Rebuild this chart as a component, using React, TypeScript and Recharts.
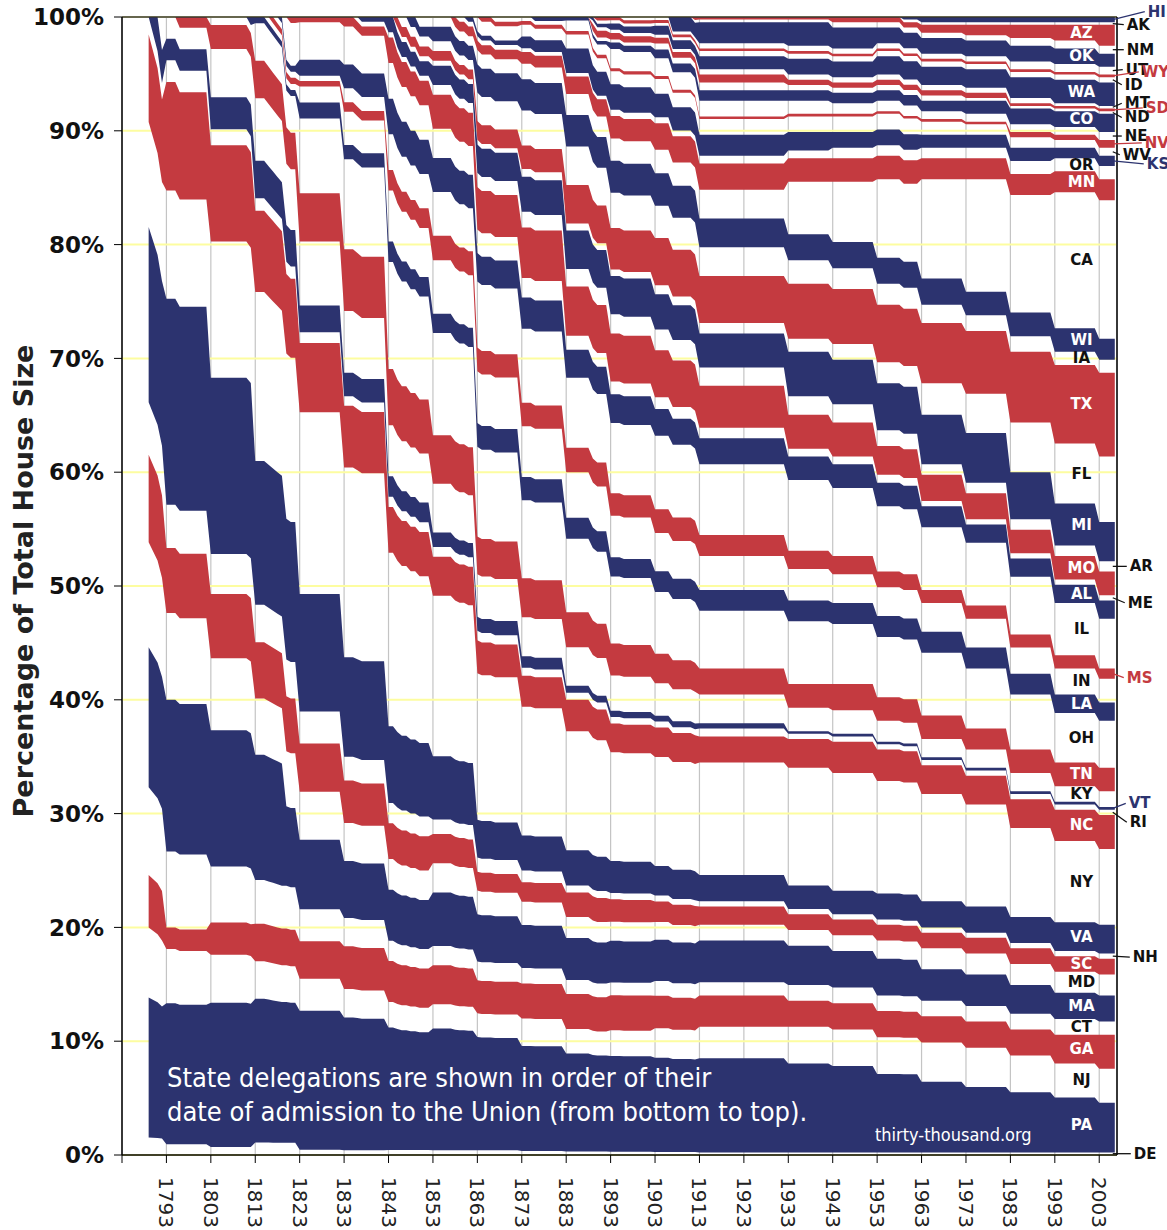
import {
  Area,
  AreaChart,
  CartesianGrid,
  ReferenceDot,
  ReferenceLine,
  XAxis,
  YAxis,
} from "recharts";

const NAVY = "#2c336f";
const RED = "#c43a40";
const FONT = "'DejaVu Sans', Verdana, sans-serif";
const NOTE_FONT = "'DejaVu Sans Condensed', 'DejaVu Sans', sans-serif";

// states in order of admission, bottom of the stack first
const STATES = [
  "DE", "PA", "NJ", "GA", "CT", "MA", "MD", "SC", "NH", "VA", "NY", "NC", "RI",
  "VT", "KY", "TN", "OH", "LA", "IN", "MS", "IL", "AL", "ME", "MO", "AR", "MI",
  "FL", "TX", "IA", "WI", "CA", "MN", "OR", "KS", "WV", "NV", "NE", "CO", "ND",
  "SD", "MT", "WA", "ID", "WY", "UT", "OK", "NM", "AZ", "AK", "HI",
];

// House seats per state (same order as STATES) when each apportionment took effect
const SEATS_1789 = [1, 8, 4, 3, 5, 8, 6, 5, 3, 10, 6, 5, 1];
const SEATS_1793 = [1, 13, 5, 2, 7, 14, 8, 6, 4, 19, 10, 10, 2, 2, 2];
const SEATS_1803 = [1, 18, 6, 4, 7, 17, 9, 8, 5, 22, 17, 12, 2, 4, 6, 3, 1];
const SEATS_1813 = [2, 23, 6, 6, 7, 20, 9, 9, 6, 23, 27, 13, 2, 6, 10, 6, 6, 1];
const SEATS_1823 = [1, 26, 6, 7, 6, 13, 9, 9, 6, 22, 34, 13, 2, 5, 12, 9, 14, 3, 3, 1, 1, 3, 7, 1];
const SEATS_1833 = [1, 28, 6, 9, 6, 12, 8, 9, 5, 21, 40, 13, 2, 5, 13, 13, 19, 3, 7, 2, 3, 5, 8, 2];
const SEATS_1843 = [1, 24, 5, 8, 4, 10, 6, 7, 4, 15, 34, 9, 2, 4, 10, 11, 21, 4, 10, 4, 7, 7, 7, 5, 1, 3];
const SEATS_1853 = [1, 25, 5, 8, 4, 11, 6, 6, 3, 13, 33, 8, 2, 3, 10, 10, 21, 4, 11, 5, 9, 7, 6, 7, 2, 4, 1, 2, 2, 3, 2];
const SEATS_1863 = [1, 24, 5, 7, 4, 10, 5, 4, 3, 8, 31, 7, 2, 3, 9, 8, 19, 5, 11, 5, 14, 6, 5, 9, 3, 6, 1, 4, 6, 6, 3, 2, 1, 1, 3];
const SEATS_1873 = [1, 27, 7, 9, 4, 11, 6, 5, 3, 9, 33, 8, 2, 3, 10, 10, 20, 6, 13, 6, 19, 8, 5, 13, 4, 9, 2, 6, 9, 8, 4, 3, 1, 3, 3, 1, 1];
const SEATS_1883 = [1, 28, 7, 10, 4, 12, 6, 7, 2, 10, 34, 9, 2, 2, 11, 10, 21, 6, 13, 7, 20, 8, 4, 14, 5, 11, 2, 11, 11, 9, 6, 5, 1, 7, 4, 1, 3, 1];
const SEATS_1893 = [1, 30, 8, 11, 4, 13, 6, 7, 2, 10, 34, 9, 2, 2, 11, 10, 21, 6, 13, 7, 22, 9, 4, 15, 6, 12, 2, 13, 11, 10, 7, 7, 2, 8, 4, 1, 6, 2, 1, 2, 1, 2, 1, 1];
const SEATS_1903 = [1, 32, 10, 11, 5, 14, 6, 7, 2, 10, 37, 10, 2, 2, 11, 10, 21, 7, 13, 8, 25, 9, 4, 16, 7, 12, 3, 16, 11, 11, 8, 9, 2, 8, 5, 1, 6, 3, 2, 2, 1, 3, 1, 1, 1];
const SEATS_1913 = [1, 36, 12, 12, 5, 16, 6, 7, 2, 10, 43, 10, 3, 2, 11, 10, 22, 8, 13, 8, 27, 10, 4, 16, 7, 13, 4, 18, 11, 11, 11, 10, 3, 8, 6, 1, 6, 4, 3, 3, 2, 5, 2, 1, 2, 8, 1, 1];
const SEATS_1933 = [1, 34, 14, 10, 6, 15, 6, 6, 2, 9, 45, 11, 2, 1, 9, 9, 24, 8, 12, 7, 27, 9, 3, 13, 7, 17, 5, 21, 9, 10, 20, 9, 3, 7, 6, 1, 5, 4, 2, 2, 2, 6, 2, 1, 2, 9, 1, 1];
const SEATS_1943 = [1, 33, 14, 10, 6, 14, 6, 6, 2, 9, 45, 12, 2, 1, 9, 10, 23, 8, 11, 7, 26, 9, 3, 13, 7, 17, 6, 21, 8, 10, 23, 9, 4, 6, 6, 1, 4, 4, 2, 2, 2, 6, 2, 1, 2, 8, 2, 2];
const SEATS_1953 = [1, 30, 14, 10, 6, 14, 7, 6, 2, 10, 43, 12, 2, 1, 8, 9, 23, 8, 11, 6, 25, 9, 3, 11, 6, 18, 8, 22, 8, 10, 30, 9, 4, 6, 6, 1, 4, 4, 2, 2, 2, 7, 2, 1, 2, 6, 2, 2];
const SEATS_1963 = [1, 27, 15, 10, 6, 12, 8, 6, 2, 10, 41, 11, 2, 1, 7, 9, 24, 8, 11, 5, 24, 8, 2, 10, 4, 19, 12, 23, 7, 10, 38, 8, 4, 5, 5, 1, 3, 4, 2, 2, 2, 7, 2, 1, 2, 6, 2, 3, 1, 2];
const SEATS_1973 = [1, 25, 15, 10, 6, 12, 8, 6, 2, 10, 39, 11, 2, 1, 7, 8, 23, 8, 11, 5, 24, 7, 2, 10, 4, 19, 15, 24, 6, 9, 43, 8, 4, 5, 4, 1, 3, 5, 1, 2, 2, 7, 2, 1, 2, 6, 2, 4, 1, 2];
const SEATS_1983 = [1, 23, 14, 10, 6, 11, 8, 6, 2, 10, 34, 11, 2, 1, 7, 9, 21, 8, 10, 5, 22, 7, 2, 9, 4, 18, 19, 27, 6, 9, 45, 8, 5, 5, 4, 2, 3, 6, 1, 1, 2, 8, 2, 1, 3, 6, 3, 5, 1, 2];
const SEATS_1993 = [1, 21, 13, 11, 6, 10, 8, 6, 2, 11, 31, 12, 2, 1, 6, 9, 19, 7, 10, 5, 20, 7, 2, 9, 4, 16, 23, 30, 5, 9, 52, 8, 5, 4, 3, 2, 3, 6, 1, 1, 1, 9, 2, 1, 3, 6, 3, 6, 1, 2];
const SEATS_2003 = [1, 19, 13, 13, 5, 10, 8, 6, 2, 11, 29, 13, 2, 1, 6, 9, 18, 7, 9, 4, 19, 7, 2, 9, 4, 15, 25, 32, 5, 8, 53, 8, 5, 4, 3, 3, 3, 7, 1, 1, 1, 9, 2, 1, 3, 5, 3, 8, 1, 2];

const APPORTIONMENTS: [number, number[]][] = [
  [1789, SEATS_1789], [1793, SEATS_1793], [1803, SEATS_1803], [1813, SEATS_1813],
  [1823, SEATS_1823], [1833, SEATS_1833], [1843, SEATS_1843], [1853, SEATS_1853],
  [1863, SEATS_1863], [1873, SEATS_1873], [1883, SEATS_1883], [1893, SEATS_1893],
  [1903, SEATS_1903], [1913, SEATS_1913], [1933, SEATS_1933], [1943, SEATS_1943],
  [1953, SEATS_1953], [1963, SEATS_1963], [1973, SEATS_1973], [1983, SEATS_1983],
  [1993, SEATS_1993], [2003, SEATS_2003],
];

// admissions (and the Maine split) between apportionments: state, year, seats
const CHANGES: [string, number, number][] = [
  ["VT", 1791, 2], ["KY", 1792, 2], ["TN", 1796, 1], ["LA", 1812, 1],
  ["IN", 1816, 1], ["MS", 1817, 1], ["IL", 1818, 1], ["AL", 1819, 1],
  ["MA", 1820, 13], ["ME", 1820, 7], ["MO", 1821, 1], ["AR", 1836, 1],
  ["MI", 1837, 1], ["FL", 1845, 1], ["TX", 1845, 2], ["IA", 1846, 2],
  ["WI", 1848, 2], ["CA", 1850, 2], ["MN", 1858, 2], ["OR", 1859, 1],
  ["KS", 1861, 1], ["NV", 1864, 1], ["NE", 1867, 1], ["CO", 1876, 1],
  ["ND", 1889, 1], ["SD", 1889, 2], ["MT", 1889, 1], ["WA", 1889, 1],
  ["ID", 1890, 1], ["WY", 1890, 1], ["UT", 1896, 1], ["OK", 1907, 5],
  ["NM", 1912, 1], ["AZ", 1912, 1], ["AK", 1959, 1], ["HI", 1959, 1],
];

const END_YEAR = 2006.5;

const X_TICKS = [
  1783, 1793, 1803, 1813, 1823, 1833, 1843, 1853, 1863, 1873, 1883, 1893,
  1903, 1913, 1923, 1933, 1943, 1953, 1963, 1973, 1983, 1993, 2003,
];
const Y_TICKS = [0, 0.1, 0.2, 0.3, 0.4, 0.5, 0.6, 0.7, 0.8, 0.9, 1];

// labels written inside their band (1993-2003 period)
const INSIDE_LABELS = [
  "PA", "NJ", "GA", "CT", "MA", "MD", "SC", "VA", "NY", "NC", "KY", "TN", "OH",
  "LA", "IN", "IL", "AL", "MO", "MI", "FL", "TX", "IA", "WI", "CA", "MN", "OR",
  "CO", "WA", "OK", "AZ",
];
// labels outside the plot: state, text offset x, text offset y (px)
const OUTSIDE_LABELS: [string, number, number][] = [
  ["HI", 33, -8], ["AK", 12, 1], ["NM", 12, 0], ["UT", 11, -1], ["WY", 27, -4],
  ["ID", 10, 5], ["MT", 10, -4], ["SD", 31, -2], ["ND", 10, 5], ["NE", 10, 0],
  ["NV", 30, -1], ["WV", 8, 3], ["KS", 32, 3], ["AR", 15, 0], ["ME", 13, 5],
  ["MS", 12, 4], ["VT", 14, -5], ["RI", 15, 10], ["NH", 18, 1], ["DE", 19, 0],
];

const fillOf = (i: number) => (i % 4 === 1 ? NAVY : i % 4 === 3 ? RED : "none");

function toRow(year: number, seats: number[]) {
  const row: Record<string, number> = { year };
  STATES.forEach((s, i) => (row[s] = seats[i]));
  return row;
}

function buildRows() {
  const years = Array.from(
    new Set([...APPORTIONMENTS.map((a) => a[0]), ...CHANGES.map((c) => c[1])])
  ).sort((a, b) => a - b);
  const rows: Record<string, number>[] = [];
  let seats = STATES.map(() => 0);
  let last: number | null = null;
  for (const y of years) {
    const prev = seats.slice();
    const app = APPORTIONMENTS.find((a) => a[0] === y);
    if (app) seats = STATES.map((_, i) => app[1][i] ?? 0);
    else seats = seats.slice();
    for (const [s, cy, n] of CHANGES) if (cy === y) seats[STATES.indexOf(s)] = n;
    // hold the old delegation until a year before the change
    // (the first Congresses filled in gradually, so no hold before 1793)
    if (last !== null && y > 1793 && y - 1 > last) rows.push(toRow(y - 1, prev));
    rows.push(toRow(y, seats));
    last = y;
  }
  rows.push(toRow(END_YEAR, seats));
  return rows;
}

const ROWS = buildRows();

function bandMid(seats: number[], idx: number) {
  const total = seats.reduce((a, b) => a + b, 0);
  const below = seats.slice(0, idx).reduce((a, b) => a + b, 0);
  return (below + (seats[idx] ?? 0) / 2) / total;
}

function XTick(props: any) {
  const { x, y, payload } = props;
  if (payload.value === 1783) return null;
  return (
    <text
      transform={`translate(${x},${y + 12}) rotate(90)`}
      textAnchor="start"
      dominantBaseline="central"
      fontFamily={FONT}
      fontSize={20}
      fill="#222"
    >
      {payload.value}
    </text>
  );
}

function insideLabel(state: string, i: number) {
  return (props: any) => {
    const vb = props.viewBox || {};
    const cx = (vb.x ?? 0) + (vb.width ?? 0) / 2;
    const cy = (vb.y ?? 0) + (vb.height ?? 0) / 2;
    return (
      <text
        x={cx}
        y={cy}
        textAnchor="middle"
        dominantBaseline="central"
        fontFamily={FONT}
        fontWeight="bold"
        fontSize={15}
        fill={fillOf(i) === "none" ? "#111" : "#fff"}
      >
        {state}
      </text>
    );
  };
}

function outsideLabel(state: string, i: number, dx: number, dy: number) {
  return (props: any) => {
    const vb = props.viewBox || {};
    const cx = (vb.x ?? 0) + (vb.width ?? 0) / 2;
    const cy = (vb.y ?? 0) + (vb.height ?? 0) / 2;
    const color = fillOf(i) === "none" ? "#111" : fillOf(i);
    return (
      <g>
        <line x1={cx - 2} y1={cy} x2={cx + dx - 3} y2={cy + dy} stroke={color} strokeWidth={1.3} />
        <text
          x={cx + dx}
          y={cy + dy}
          dominantBaseline="central"
          fontFamily={FONT}
          fontWeight="bold"
          fontSize={15}
          fill={color}
        >
          {state}
        </text>
      </g>
    );
  };
}

function YTitle(props: any) {
  const vb = props.viewBox || { x: 0, y: 17, width: 122, height: 1138 };
  const cy = vb.y + vb.height / 2 - 5;
  return (
    <text
      transform={`translate(23,${cy}) rotate(-90)`}
      textAnchor="middle"
      dominantBaseline="central"
      fontFamily={FONT}
      fontWeight="bold"
      fontSize={27}
      fill="#222"
    >
      Percentage of Total House Size
    </text>
  );
}

export default function App() {
  return (
    <div style={{ position: "absolute", left: 0, top: 0, width: 1167, height: 1230, background: "#fff" }}>
      <AreaChart
        width={1167}
        height={1230}
        data={ROWS}
        stackOffset="expand"
        margin={{ top: 17, right: 50, bottom: 0, left: 0 }}
      >
        <CartesianGrid horizontal={false} stroke="#c4c4c4" strokeWidth={1.2} />
        <CartesianGrid vertical={false} stroke="#fdfda0" strokeWidth={2} />
        <XAxis
          type="number"
          dataKey="year"
          domain={[1783, 2007]}
          ticks={X_TICKS}
          interval={0}
          allowDataOverflow
          height={75}
          tick={<XTick />}
          tickSize={8}
          tickLine={{ stroke: "#000" }}
          axisLine={{ stroke: "#000", strokeWidth: 1.5 }}
        />
        <YAxis
          type="number"
          domain={[0, 1]}
          ticks={Y_TICKS}
          interval={0}
          width={122}
          tickSize={8}
          tickMargin={10}
          tickFormatter={(v: number) => `${Math.round(v * 100)}%`}
          tick={{ fill: "#111", fontSize: 23, fontWeight: "bold", fontFamily: FONT }}
          tickLine={{ stroke: "#000" }}
          axisLine={{ stroke: "#000", strokeWidth: 1.5 }}
          label={(p: any) => <YTitle {...p} />}
        />
        {STATES.map((s, i) => (
          <Area
            key={s}
            dataKey={s}
            stackId="house"
            type="linear"
            fill={fillOf(i)}
            fillOpacity={1}
            stroke="none"
            dot={false}
            activeDot={false}
            isAnimationActive={false}
          />
        ))}
        <ReferenceLine y={1} stroke="#333" strokeWidth={1.5} ifOverflow="visible" />
        <ReferenceLine x={2007} stroke="#000" strokeWidth={1.5} ifOverflow="visible" />
        {INSIDE_LABELS.map((s) => {
          const i = STATES.indexOf(s);
          return (
            <ReferenceDot
              key={`in-${s}`}
              x={1999}
              y={bandMid(SEATS_1993, i)}
              r={0}
              fill="none"
              stroke="none"
              ifOverflow="visible"
              label={insideLabel(s, i)}
            />
          );
        })}
        {OUTSIDE_LABELS.map(([s, dx, dy]) => {
          const i = STATES.indexOf(s);
          return (
            <ReferenceDot
              key={`out-${s}`}
              x={END_YEAR}
              y={bandMid(SEATS_2003, i)}
              r={0}
              fill="none"
              stroke="none"
              ifOverflow="visible"
              label={outsideLabel(s, i, dx, dy)}
            />
          );
        })}
      </AreaChart>
      <svg
        width={1167}
        height={1230}
        style={{ position: "absolute", left: 0, top: 0, pointerEvents: "none" }}
      >
        <text x={167} y={1087} fontFamily={NOTE_FONT} fontSize={27} fill="#fff">
          State delegations are shown in order of their
        </text>
        <text x={167} y={1121} fontFamily={NOTE_FONT} fontSize={27} fill="#fff">
          date of admission to the Union (from bottom to top).
        </text>
        <text x={875} y={1141} fontFamily={NOTE_FONT} fontSize={18} fill="#fff">
          thirty-thousand.org
        </text>
      </svg>
    </div>
  );
}
